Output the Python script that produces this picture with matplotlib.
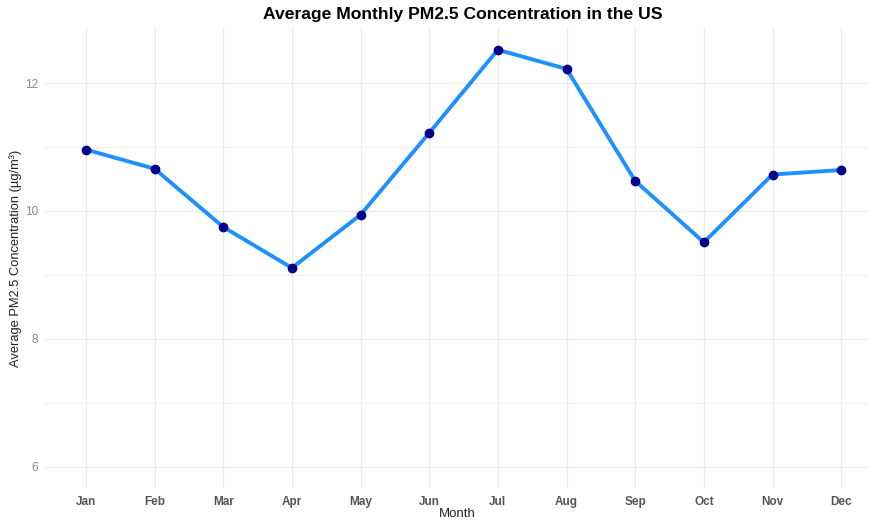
import matplotlib
matplotlib.use('Agg')
import matplotlib.pyplot as plt

plt.rcParams['font.family'] = ['Liberation Sans', 'DejaVu Sans']

months = ['Jan', 'Feb', 'Mar', 'Apr', 'May', 'Jun',
          'Jul', 'Aug', 'Sep', 'Oct', 'Nov', 'Dec']
pm25 = [10.96, 10.66, 9.75, 9.11, 9.94, 11.22,
        12.52, 12.22, 10.47, 9.51, 10.57, 10.64]
yticks = [6, 8, 10, 12]
yminor = [7, 9, 11]

fig = plt.figure(figsize=(8.7, 5.22), dpi=100)
ax = fig.add_axes([44/870, 34/522, 826/870, 460/522])

x = list(range(1, len(months) + 1))
ax.plot(x, pm25, color='#1E90FF', lw=2.8, zorder=3, solid_capstyle='butt')
ax.scatter(x, pm25, color='#00008B', s=36, zorder=4)

ax.set_xlim(0.39, 12.42)
ax.set_ylim(5.67, 12.86)
ax.set_xticks(x)
ax.set_xticklabels(months, fontweight='bold', color='#555555', fontsize=8.5)
ax.set_yticks(yticks)
ax.set_yticks(yminor, minor=True)
ax.set_yticklabels([str(v) for v in yticks], color='#888888', fontsize=8.5)
ax.tick_params(axis='x', which='both', length=0, pad=6)
ax.tick_params(axis='y', which='both', length=0, pad=4)

ax.grid(which='major', color='#EBEBEB', lw=1.0)
ax.grid(which='minor', axis='y', color='#F2F2F2', lw=0.8)
ax.set_axisbelow(True)
for s in ax.spines.values():
    s.set_visible(False)

ax.set_xlabel('Month', fontsize=9.5, color='#222222')
ax.xaxis.set_label_coords(0.5, -20/460)
ax.set_ylabel('Average PM2.5 Concentration (µg/m³)', fontsize=9.3,
              color='#222222')
ax.yaxis.set_label_coords(-22/826, 0.5)
fig.text(463/870, 1 - 14/522, 'Average Monthly PM2.5 Concentration in the US',
         ha='center', va='center', fontsize=12.6, fontweight='bold')

fig.savefig('out.png', dpi=100)
